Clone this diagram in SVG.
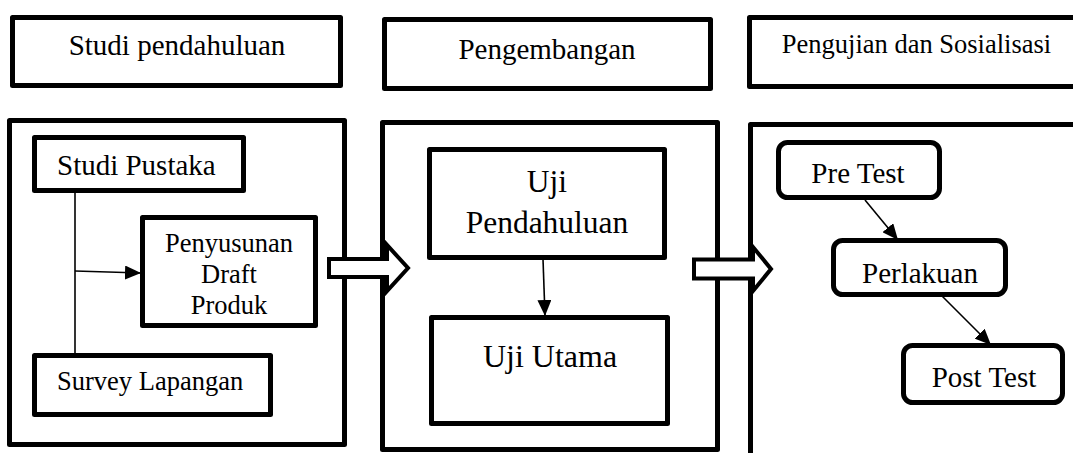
<svg xmlns="http://www.w3.org/2000/svg" width="1073" height="453" viewBox="0 0 1073 453" font-family="'Liberation Serif', 'DejaVu Serif', serif">
<style>
.box{fill:#fff;stroke:#000;stroke-width:5;stroke-linejoin:round}
.rbox{fill:#fff;stroke:#000;stroke-width:5}
text{font-family:'Liberation Serif','DejaVu Serif',serif;fill:#000}
.ln{stroke:#000;stroke-width:1.6;fill:none}
.hollow{fill:#fff;stroke:#000;stroke-width:4;stroke-linejoin:miter}
</style>
<defs>
<marker id="ah" markerUnits="userSpaceOnUse" markerWidth="16" markerHeight="14" refX="16" refY="7" orient="auto">
<path d="M0,0 L16,7 L0,14 Z" fill="#000"/>
</marker>
<clipPath id="clipP"><rect x="140" y="215" width="180" height="100"/></clipPath>
</defs>
<g id="header1"><rect class="box" x="12.5" y="17.5" width="328" height="68"/><text x="177" y="55" font-size="29" text-anchor="middle">Studi pendahuluan</text></g>
<g id="header2"><rect class="box" x="384.5" y="19.5" width="326" height="69"/><text x="547" y="59" font-size="29" text-anchor="middle">Pengembangan</text></g>
<g id="header3"><rect class="box" x="749.5" y="17.5" width="340" height="69"/><text x="916.5" y="53" font-size="26.5" text-anchor="middle">Pengujian dan Sosialisasi</text></g>
<g id="panel1"><rect class="box" x="9.5" y="120.5" width="335" height="324"/></g>
<g id="panel2"><rect class="box" x="382.5" y="122.5" width="335" height="327"/></g>
<g id="panel3"><rect class="box" x="750.5" y="124.5" width="340" height="340"/></g>
<g id="connectors">
<polygon class="hollow" points="329,259 387,259 387,245 408,268 387,291 387,277 329,277"/>
<polygon class="hollow" points="694,259.5 753,259.5 753,247 771,269 753,291 753,278.5 694,278.5"/>
<line class="ln" x1="75" y1="192" x2="75" y2="356"/>
<line class="ln" x1="75" y1="271" x2="141" y2="273" marker-end="url(#ah)"/>
<line class="ln" x1="543" y1="259" x2="545" y2="316" marker-end="url(#ah)"/>
<line class="ln" x1="865" y1="200" x2="898" y2="240" marker-end="url(#ah)"/>
<line class="ln" x1="942" y1="296" x2="991" y2="345" marker-end="url(#ah)"/>
</g>
<g id="studi-pustaka"><rect class="box" x="34.5" y="137.5" width="209" height="53"/><text x="57" y="175" font-size="29">Studi Pustaka</text></g>
<g id="penyusunan"><rect class="box" x="142.5" y="217.5" width="173" height="108"/><g clip-path="url(#clipP)"><text font-size="26.5" text-anchor="middle"><tspan x="229" y="252">Penyusunan</tspan><tspan x="229" y="283">Draft</tspan><tspan x="229" y="314">Produk</tspan></text></g></g>
<g id="survey"><rect class="box" x="34.5" y="355.5" width="236" height="59"/><text x="57" y="390" font-size="26.5">Survey Lapangan</text></g>
<g id="uji-pendahuluan"><rect class="box" x="429.5" y="149.5" width="235" height="108"/><text font-size="31.5" text-anchor="middle"><tspan x="547" y="192">Uji</tspan><tspan x="547" y="233">Pendahuluan</tspan></text></g>
<g id="uji-utama"><rect class="box" x="431.5" y="317.5" width="236" height="106"/><text x="550" y="367" font-size="32" text-anchor="middle">Uji Utama</text></g>
<g id="pre-test"><rect class="rbox" x="778.5" y="142.5" width="161" height="55" rx="9"/><text x="858" y="183" font-size="29" text-anchor="middle">Pre Test</text></g>
<g id="perlakuan"><rect class="rbox" x="833.5" y="240.5" width="172" height="54" rx="9"/><text x="920" y="283" font-size="29" text-anchor="middle">Perlakuan</text></g>
<g id="post-test"><rect class="rbox" x="903.5" y="345.5" width="159" height="57" rx="9"/><text x="984" y="387" font-size="29" text-anchor="middle">Post Test</text></g>
</svg>
